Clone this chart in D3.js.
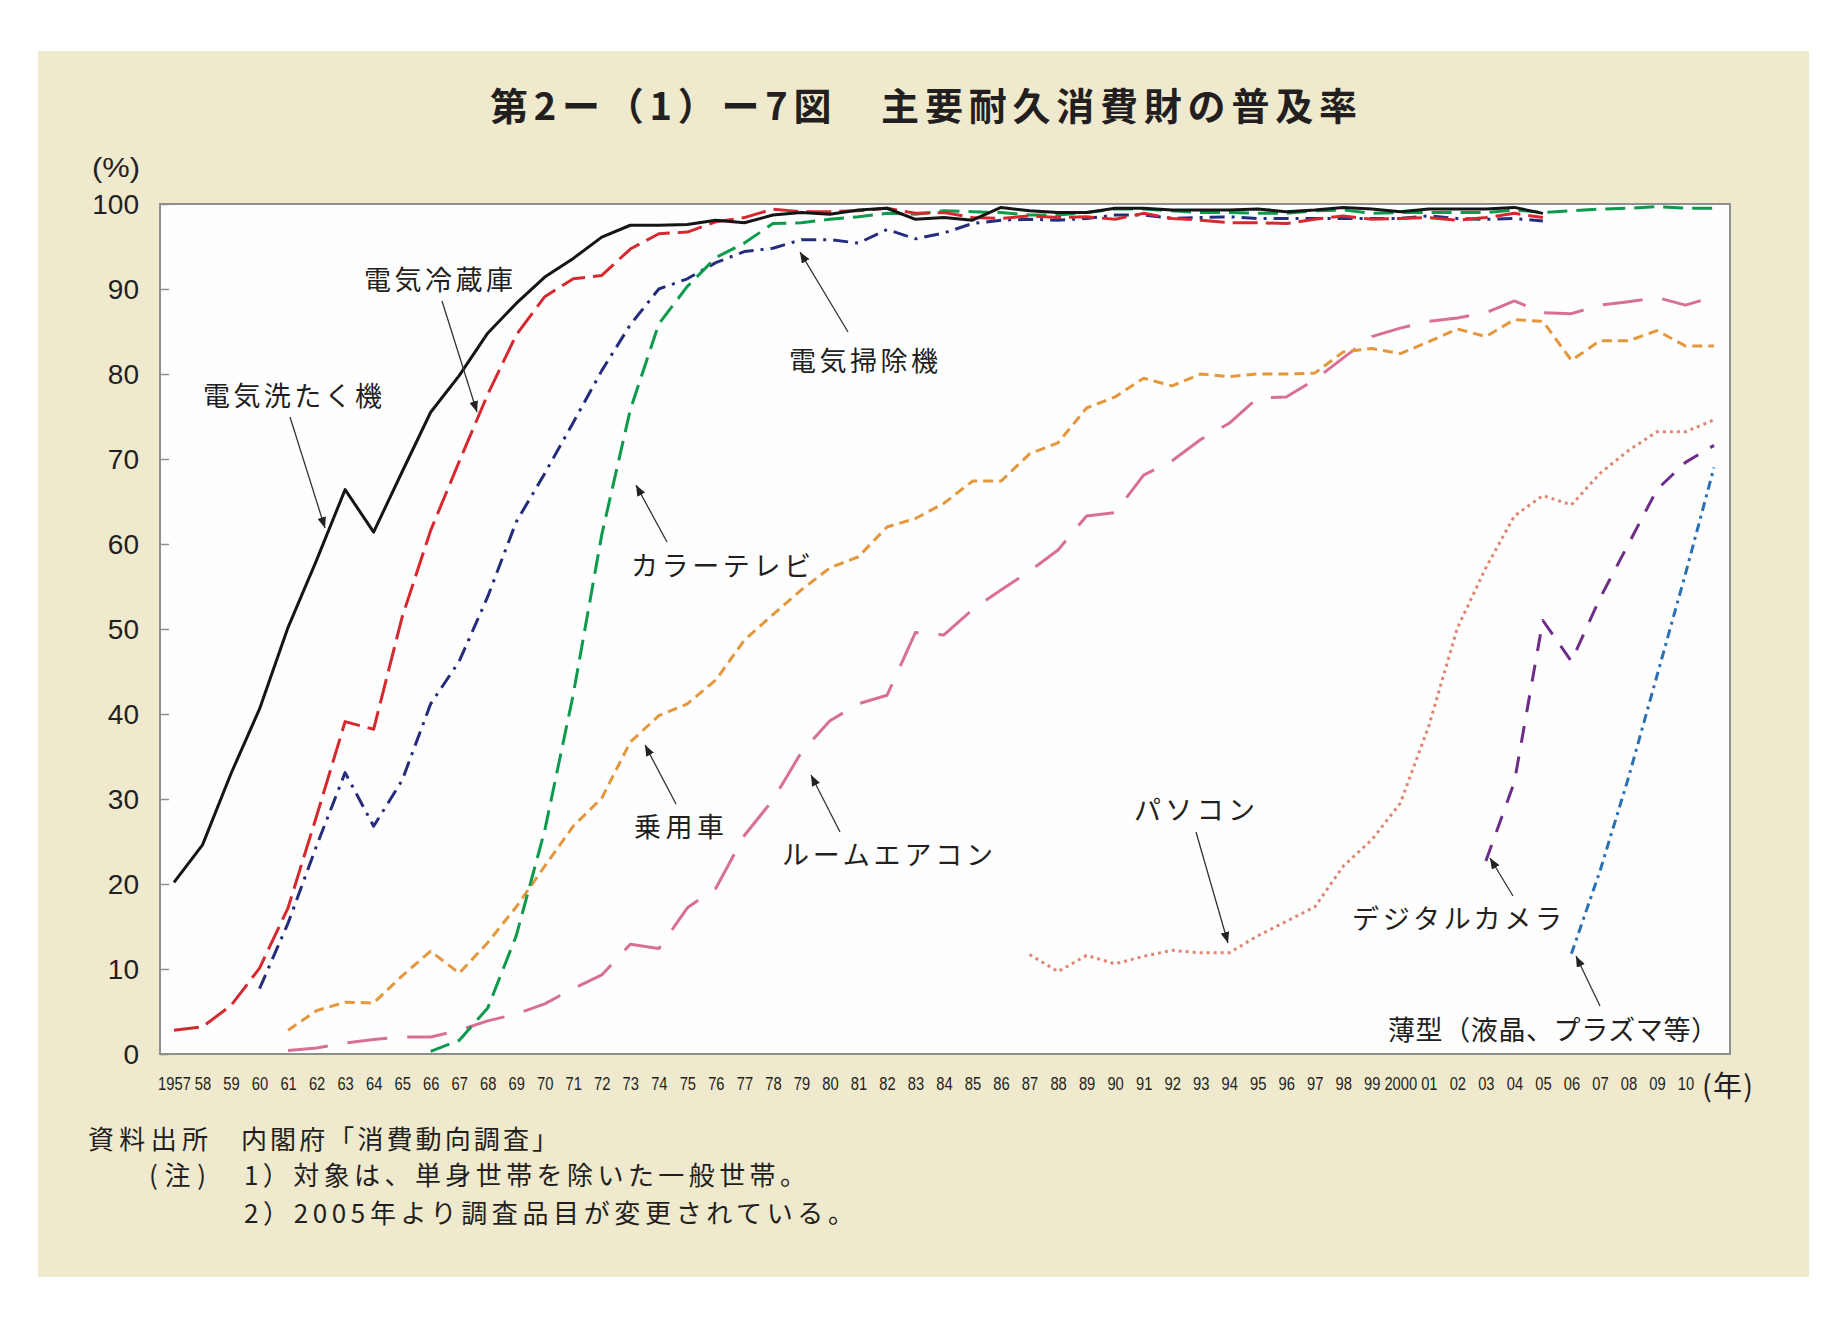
<!DOCTYPE html>
<html><head><meta charset="utf-8">
<script src="https://cdn.jsdelivr.net/npm/d3@7/dist/d3.min.js"></script>
<style>
html,body{margin:0;padding:0;background:#fff;}
svg{display:block;}
</style>
</head><body>
<svg id="chart" width="1842" height="1319"></svg>
<script>
// ---------------- data ----------------
const xTickLabels = ["1957","58","59","60","61","62","63","64","65","66","67","68","69","70","71","72","73","74","75","76","77","78","79","80","81","82","83","84","85","86","87","88","89","90","91","92","93","94","95","96","97","98","99","2000","01","02","03","04","05","06","07","08","09","10"];
const yTicks = [0,10,20,30,40,50,60,70,80,90,100];

const washingStart = 1957;
const washing = [20.2,24.6,33.0,40.6,50.2,58.1,66.4,61.4,68.5,75.5, 79.8,84.8,88.3,91.4,93.6,96.1,97.5,97.5,97.6,98.1, 97.8,98.7,99.0,98.8,99.3,99.5,98.2,98.4,98.1,99.6, 99.2,99.0,99.0,99.5,99.5,99.3,99.3,99.3,99.4,99.1, 99.3,99.6,99.4,99.1,99.4,99.4,99.4,99.6,98.9];

const fridgeStart = 1957;
const fridge = [2.8,3.2,5.7,10.1,17.2,28.0,39.1,38.2,51.4,61.6, 69.7,77.6,84.6,89.1,91.2,91.6,94.7,96.5,96.7,97.9, 98.4,99.4,99.1,99.1,99.2,99.5,98.9,99.0,98.4,98.3, 98.6,98.4,98.5,98.2,98.9,98.3,98.1,97.8,97.8,97.7, 98.2,98.6,98.2,98.3,98.4,98.1,98.4,98.9,98.4];

const vacuumStart = 1960;
const vacuum = [7.7,15.4,24.5,33.1,26.8,32.2,41.2,46.2,53.8,62.6, 68.3,74.3,80.4,85.8,90.0,91.2,93.1,94.4,94.8,95.8, 95.8,95.4,97.0,95.9,96.6,97.7,98.1,98.2,98.1,98.3, 98.7,98.7,98.3,98.4,98.5,98.3,98.3,98.3,98.3,98.3, 98.3,98.6,98.3,98.2,98.3,98.0];

const colorTvStart = 1966;
const colorTv = [0.3,1.6,5.4,13.9, 26.3,42.3,61.1,75.8,85.9,90.3,93.7,95.4,97.7,97.8, 98.2,98.5,98.9,98.8,99.2,99.1,99.0,98.7,98.7,99.0, 99.4,99.4,99.2,99.0,99.0,98.9,98.9,99.2,99.3,98.9, 99.0,99.0,99.0,99.0,99.3,99.0,99.2,99.4,99.5,99.7,99.5,99.5];

const carStart = 1961;
const car = [2.8,5.1,6.1,6.0,9.2,12.1,9.5,13.1,17.3, 22.1,26.8,30.1,36.7,39.8,41.2,44.0,48.7,51.7,54.6, 57.2,58.5,62.0,63.0,64.8,67.4,67.4,70.6,71.9,76.0, 77.3,79.5,78.6,80.0,79.7,80.0,80.0,80.1,82.6,83.0, 82.4,83.8,85.3,84.4,86.4,86.2,81.6,83.9,83.9,85.1,83.3,83.3];

const airconStart = 1961;
const aircon = [0.4,0.7,1.3,1.7,2.0,2.0,2.8,3.9,4.7, 5.9,7.7,9.3,12.9,12.4,17.2,19.5,25.7,29.9,35.5, 39.2,41.2,42.2,49.6,49.3,52.3,54.6,56.8,59.3,63.3, 63.7,68.1,69.8,72.3,74.2,77.2,77.3,79.3,81.9,84.4, 85.4,86.2,86.6,87.2,88.6,87.2,87.1,88.1,88.5,89.0,88.1,89.1];

const pcStart = 1987;
const pc = [11.7,9.7,11.6,10.6,11.5,12.2,11.9,11.9,13.9,15.6,17.3,22.1,25.2,29.5,38.6,50.1,57.2,63.3,65.7,64.6,68.3,71.0,73.2,73.2,74.6];

const cameraStart = 2003;
const camera = [22.7,32.0,51.0,46.2,53.6,60.0,66.4,69.6,71.6];

const flatTvStart = 2006;
const flatTv = [11.8,21.5,32.5,44.5,56.5,69.0];

// ---------------- layout ----------------
const W = 1842, H = 1319;
const plot = {left:160, top:204, right:1730, bottom:1054};
const x = d3.scaleLinear().domain([1957, 2011]).range([174, 1714]);
const y = d3.scaleLinear().domain([0, 100]).range([plot.bottom, plot.top]);

const svg = d3.select("#chart");
const JP = "'Noto Sans CJK JP','Noto Sans CJK SC',sans-serif";
const NUM = "'Liberation Sans',Arial,sans-serif";

svg.append("rect").attr("x",0).attr("y",0).attr("width",W).attr("height",H).attr("fill","#ffffff");
svg.append("rect").attr("x",38).attr("y",51).attr("width",1771).attr("height",1226).attr("fill","#efe9cd");

// title
svg.append("text").attr("x",490).attr("y",103)
  .attr("dominant-baseline","central")
  .attr("textLength",867).attr("lengthAdjust","spacing")
  .style("font-family",JP).style("font-weight","700").style("font-size","38px").attr("fill","#231f20")
  .text("第2ー（1）ー7図　主要耐久消費財の普及率");

// plot area
svg.append("rect").attr("x",plot.left).attr("y",plot.top)
  .attr("width",plot.right-plot.left).attr("height",plot.bottom-plot.top)
  .attr("fill","#fefefe").attr("stroke","#8f8f8f").attr("stroke-width",2);

// y axis
const yAxis = svg.append("g").attr("transform",`translate(${plot.left},0)`)
  .call(d3.axisLeft(y).tickValues(yTicks).tickSize(-9).tickPadding(21).tickFormat(d3.format("d")));
yAxis.select(".domain").remove();
yAxis.selectAll(".tick line").attr("stroke","#8f8f8f").attr("stroke-width",1.5);
yAxis.selectAll(".tick text").style("font-family",NUM).style("font-size","28px").attr("fill","#231f20").attr("dy","0.35em");

svg.append("text").attr("x",92).attr("y",168).attr("dominant-baseline","central")
  .attr("textLength",48).attr("lengthAdjust","spacingAndGlyphs")
  .style("font-family",NUM).style("font-size","27px").attr("fill","#231f20").text("(%)");

// x axis
const tickYears = xTickLabels.map((d,i)=>washingStart+i);
const xAxis = svg.append("g").attr("transform",`translate(0,${plot.bottom})`)
  .call(d3.axisBottom(x).tickValues(tickYears).tickSize(0).tickFormat((d,i)=>xTickLabels[i]));
xAxis.select(".domain").remove();
xAxis.selectAll(".tick text")
  .attr("y",30).attr("dy","0.35em")
  .style("font-family",NUM).style("font-size","18px").attr("fill","#231f20")
  .attr("textLength",(d,i)=>xTickLabels[i].length*8.2).attr("lengthAdjust","spacingAndGlyphs");

svg.append("text").attr("x",1702).attr("y",1084).attr("dominant-baseline","central")
  .attr("textLength",51).attr("lengthAdjust","spacing")
  .style("font-family",JP).style("font-size","29px").attr("fill","#231f20").text("(年)");

// ---------------- series ----------------
const seriesDefs = [
  {values:aircon, start:airconStart, color:"#d8708f", dash:"40 20"},
  {values:car, start:carStart, color:"#e4973c", dash:"10 6"},
  {values:pc, start:pcStart, color:"#df8672", dash:"3 4"},
  {values:camera, start:cameraStart, color:"#6e2d86", dash:"17 14"},
  {values:flatTv, start:flatTvStart, color:"#2a70b3", dash:"9 5 3 5"},
  {values:vacuum, start:vacuumStart, color:"#252c7c", dash:"15 7 3 7"},
  {values:colorTv, start:colorTvStart, color:"#0c9a4c", dash:"20 9"},
  {values:fridge, start:fridgeStart, color:"#d6282f", dash:"25 8"},
  {values:washing, start:washingStart, color:"#151515", dash:null}
];

const line = d3.line().x(d=>x(d.year)).y(d=>y(d.v));
const gLines = svg.append("g");
seriesDefs.forEach(s=>{
  const pts = s.values.map((v,i)=>({year:s.start+i, v}));
  gLines.append("path").datum(pts)
    .attr("d",line).attr("fill","none")
    .attr("stroke",s.color).attr("stroke-width",3)
    .attr("stroke-linejoin","round")
    .attr("stroke-dasharray",s.dash);
});

// ---------------- annotations ----------------
const defs = svg.append("defs");
defs.append("marker").attr("id","arr").attr("viewBox","0 0 10 8")
  .attr("refX",10).attr("refY",4).attr("markerWidth",11).attr("markerHeight",9)
  .attr("markerUnits","userSpaceOnUse").attr("orient","auto")
  .append("path").attr("d","M0,0 L10,4 L0,8 Z").attr("fill","#222");

const labels = [
  {t:"電気洗たく機", x:203, y:394, w:179, a:[290,417,325,528]},
  {t:"電気冷蔵庫", x:364, y:278, w:149, a:[442,301,477,412]},
  {t:"電気掃除機", x:789, y:359, w:149, a:[848,332,800,252]},
  {t:"カラーテレビ", x:631, y:564, w:180, a:[667,542,636,485]},
  {t:"乗用車", x:634, y:825, w:90, a:[676,804,645,745]},
  {t:"ルームエアコン", x:782, y:853, w:211, a:[840,832,811,775]},
  {t:"パソコン", x:1134, y:808, w:121, a:[1196,832,1228,943]},
  {t:"デジタルカメラ", x:1352, y:917, w:210, a:[1513,896,1490,858]},
  {t:"薄型（液晶、プラズマ等）", x:1388, y:1028, w:330, a:[1600,1006,1576,956]}
];
const gAnn = svg.append("g");
labels.forEach(l=>{
  gAnn.append("text").attr("x",l.x).attr("y",l.y).attr("dominant-baseline","central")
    .attr("textLength",l.w).attr("lengthAdjust","spacing")
    .style("font-family",JP).style("font-size","27px").attr("fill","#231f20").text(l.t);
  gAnn.append("line").attr("x1",l.a[0]).attr("y1",l.a[1]).attr("x2",l.a[2]).attr("y2",l.a[3])
    .attr("stroke","#333").attr("stroke-width",1.3).attr("marker-end","url(#arr)");
});

// ---------------- notes ----------------
const notes = [
  {t:"資料出所", x:88, y:1137, w:120},
  {t:"内閣府「消費動向調査」", x:241, y:1137, w:317},
  {t:"(注)", x:149, y:1173, w:57},
  {t:"1）対象は、単身世帯を除いた一般世帯。", x:244, y:1173, w:562},
  {t:"2）2005年より調査品目が変更されている。", x:244, y:1211, w:610}
];
notes.forEach(n=>{
  svg.append("text").attr("x",n.x).attr("y",n.y).attr("dominant-baseline","central")
    .attr("textLength",n.w).attr("lengthAdjust","spacing")
    .style("font-family",JP).style("font-size","26px").attr("fill","#231f20").text(n.t);
});
</script>
</body></html>
